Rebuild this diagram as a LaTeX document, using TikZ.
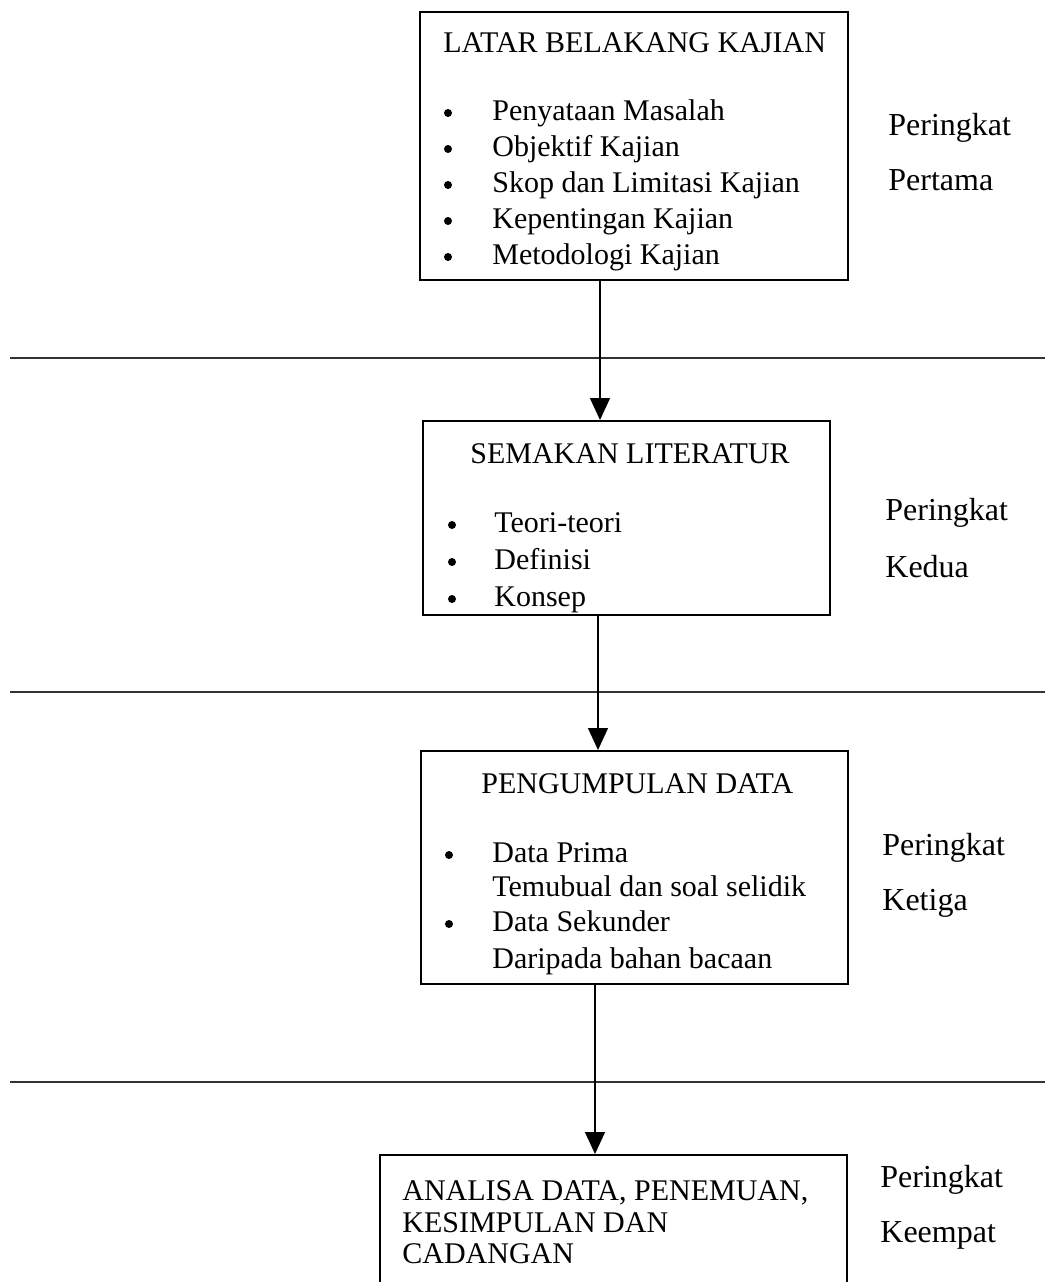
\documentclass[tikz,border=0pt]{standalone}
\usepackage{fontspec}
\setmainfont{Liberation Serif}
\usetikzlibrary{arrows.meta}
\tikzset{
  box/.style={draw,line width=1pt,inner sep=0pt},
  txt/.style={anchor=base west,inner sep=0pt,font=\fontsize{15}{18}\selectfont},
  lvl/.style={txt,font=\fontsize{16}{19}\selectfont},
  dot/.style={circle,fill,inner sep=0pt,minimum size=4pt},
  arr/.style={line width=0.7pt,-{Triangle[width=10pt,length=11pt]}},
  sep/.style={line width=0.9pt,black!80}
}
\begin{document}
\begin{tikzpicture}[x=0.5pt,y=-0.5pt]
    \useasboundingbox (0,0) rectangle (1045,1282);
    \clip (0,0) rectangle (1045,1282);
    % boxes
    \node[box,minimum width=214pt,minimum height=134pt] (lb) at (634,146) {};
    \node[box,minimum width=203.5pt,minimum height=97pt] (sl) at (626.5,518) {};
    \node[box,minimum width=213.5pt,minimum height=116.5pt] (pd) at (634.5,867.5) {};
    \node[box,minimum width=233.5pt,minimum height=90pt] (ad) at (613.5,1245) {};
    % peringkat lines
    \draw[sep] (10,358) -- (1045,358);
    \draw[sep] (10,692) -- (1045,692);
    \draw[sep] (10,1082) -- (1045,1082);
    % latar belakang
    \node[txt] (lbT) at (443,52) {LATAR BELAKANG KAJIAN};
    \foreach \t [count=\i] in {Penyataan Masalah,Objektif Kajian,Skop dan Limitasi Kajian,Kepentingan Kajian,Metodologi Kajian} {
        \node[txt] (lb\i) at (492,{84+36*\i}) {\t};
        \node[dot] (lbd\i) at (448,{77+36*\i}) {};
    }
    % semakan literatur
    \node[txt] (slT) at (470,463) {SEMAKAN LITERATUR};
    \foreach \t [count=\i] in {Teori-teori,Definisi,Konsep} {
        \node[txt] (sl\i) at (494,{495+37*\i}) {\t};
        \node[dot] (sld\i) at (452,{488+37*\i}) {};
    }
    % pengumpulan data
    \node[txt] (pdT) at (481,793) {PENGUMPULAN DATA};
    \node[txt] (pd1) at (492,862) {Data Prima};
    \node[txt] (pd2) at (492,896) {Temubual dan soal selidik};
    \node[txt] (pd3) at (492,931) {Data Sekunder};
    \node[txt] (pd4) at (492,968) {Daripada bahan bacaan};
    \node[dot] (pdd1) at (449,855) {};
    \node[dot] (pdd2) at (449,924) {};
    % analisa
    \node[txt] (ad1) at (402,1200) {ANALISA DATA, PENEMUAN,};
    \node[txt] (ad2) at (402,1232) {KESIMPULAN DAN};
    \node[txt] (ad3) at (402,1263) {CADANGAN};
    % peringkat
    \node[lvl] (p1a) at (888,135) {Peringkat};
    \node[lvl] (p1b) at (888,190) {Pertama};
    \node[lvl] (p2a) at (885,520) {Peringkat};
    \node[lvl] (p2b) at (885,577) {Kedua};
    \node[lvl] (p3a) at (882,855) {Peringkat};
    \node[lvl] (p3b) at (882,910) {Ketiga};
    \node[lvl] (p4a) at (880,1187) {Peringkat};
    \node[lvl] (p4b) at (880,1242) {Keempat};
    % arrows
    \draw[arr] ([xshift=-17pt]lb.south) coordinate (a1) -- (a1 |- sl.north);
    \draw[arr] ([xshift=-14.25pt]sl.south) coordinate (a2) -- (a2 |- pd.north);
    \draw[arr] ([xshift=-19.75pt]pd.south) coordinate (a3) -- (a3 |- ad.north);
\end{tikzpicture}
\end{document}
